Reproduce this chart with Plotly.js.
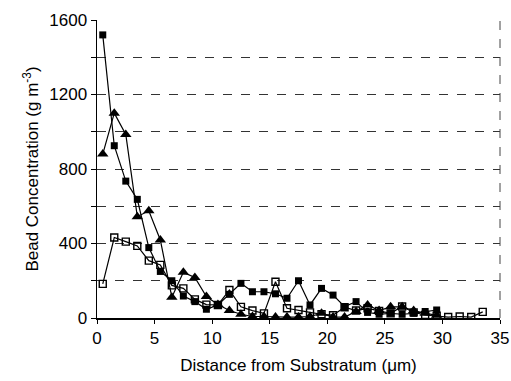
<!DOCTYPE html>
<html>
<head>
<meta charset="utf-8">
<script src="https://cdn.plot.ly/plotly-3.0.1.min.js"></script>
<style>html,body{margin:0;padding:0;background:#fff;}#chart{width:511px;height:381px;}</style>
</head>
<body>
<div id="chart"></div>
<script>
// Distance from substratum (µm), bin centres
var xFilled = [0.5,1.5,2.5,3.5,4.5,5.5,6.5,7.5,8.5,9.5,10.5,11.5,12.5,13.5,14.5,15.5,16.5,17.5,18.5,19.5,20.5,21.5,22.5,23.5,24.5,25.5,26.5,27.5,28.5,29.5];
var filledSquares = [1520,925,735,637,378,250,200,118,88,47,70,127,186,141,141,130,106,200,70,159,123,61,88,30,20,25,20,25,35,43];

var xTri = [0.5,1.5,2.5,3.5,4.5,5.5,6.5,7.5,8.5,9.5,10.5,11.5,12.5,13.5,14.5,15.5,16.5,17.5,18.5,19.5,20.5,21.5,22.5,23.5,24.5,25.5,26.5,27.5,28.5,29.5];
var triangles = [880,1100,985,544,576,419,112,245,218,115,72,40,20,8,8,5,5,5,8,25,5,5,35,70,40,60,60,40,25,15];

var xOpen = [0.5,1.5,2.5,3.5,4.5,5.5,6.5,7.5,8.5,9.5,10.5,11.5,12.5,13.5,14.5,15.5,16.5,17.5,18.5,19.5,20.5,21.5,22.5,23.5,24.5,25.5,26.5,27.5,28.5,29.5,30.5,31.5,32.5,33.5];
var openSquares = [183,432,410,387,308,285,175,159,100,72,70,150,60,40,25,195,52,43,30,20,15,58,40,52,38,25,62,30,16,12,5,8,5,33];

var yTickVals = [0,400,800,1200,1600];
var yTickText = ['0','400','800','1200','1600'];
var xTickVals = [0,5,10,15,20,25,30,35];

var font = 'Liberation Sans, Arial, sans-serif';
var lineStyle = {color:'#000', width:1.2};

var traces = [
  {x:xOpen, y:openSquares, type:'scatter', mode:'lines+markers', line:lineStyle,
   marker:{symbol:'square-open', size:7, color:'#000', line:{width:1.4, color:'#000'}}, name:'open'},
  {x:xTri, y:triangles, type:'scatter', mode:'lines+markers', line:lineStyle,
   marker:{symbol:'triangle-up', size:10, color:'#000'}, name:'tri'},
  {x:xFilled, y:filledSquares, type:'scatter', mode:'lines+markers', line:lineStyle,
   marker:{symbol:'square', size:7, color:'#000'}, name:'filled'}
];

var layout = {
  width:511, height:381,
  margin:{l:97, r:11, t:20, b:63},
  paper_bgcolor:'#fff', plot_bgcolor:'#fff',
  showlegend:false,
  font:{family:font, color:'#000', size:17},
  xaxis:{range:[0,35], tickvals:xTickVals, ticks:'outside', ticklen:4, tickcolor:'#000',
         showline:true, linecolor:'#000', linewidth:1.5, showgrid:false, zeroline:false,
         tickfont:{size:17, family:font},
         title:{text:'Distance from Substratum (\u03bcm)', font:{size:17, family:font}, standoff:12}},
  yaxis:{range:[0,1600], tickvals:yTickVals, ticktext:yTickText, ticks:'outside', ticklen:5, tickcolor:'#000',
         showline:true, linecolor:'#000', linewidth:1.5, showgrid:true, gridcolor:'#333', griddash:'dash', gridwidth:1,
         minor:{dtick:200, tick0:0, ticks:'outside', ticklen:5, tickcolor:'#000', showgrid:true, gridcolor:'#333', griddash:'dash', gridwidth:1},
         zeroline:false, tickfont:{size:17, family:font},
         title:{text:'Bead Concentration (g m<sup>-3</sup>)', font:{size:17, family:font}, standoff:6}},
  shapes:[{type:'line', xref:'paper', yref:'paper', x0:1, x1:1, y0:0, y1:1, line:{color:'#444', width:1, dash:'dash'}}]
};

Plotly.newPlot('chart', traces, layout, {displayModeBar:false, staticPlot:true});
</script>
</body>
</html>
